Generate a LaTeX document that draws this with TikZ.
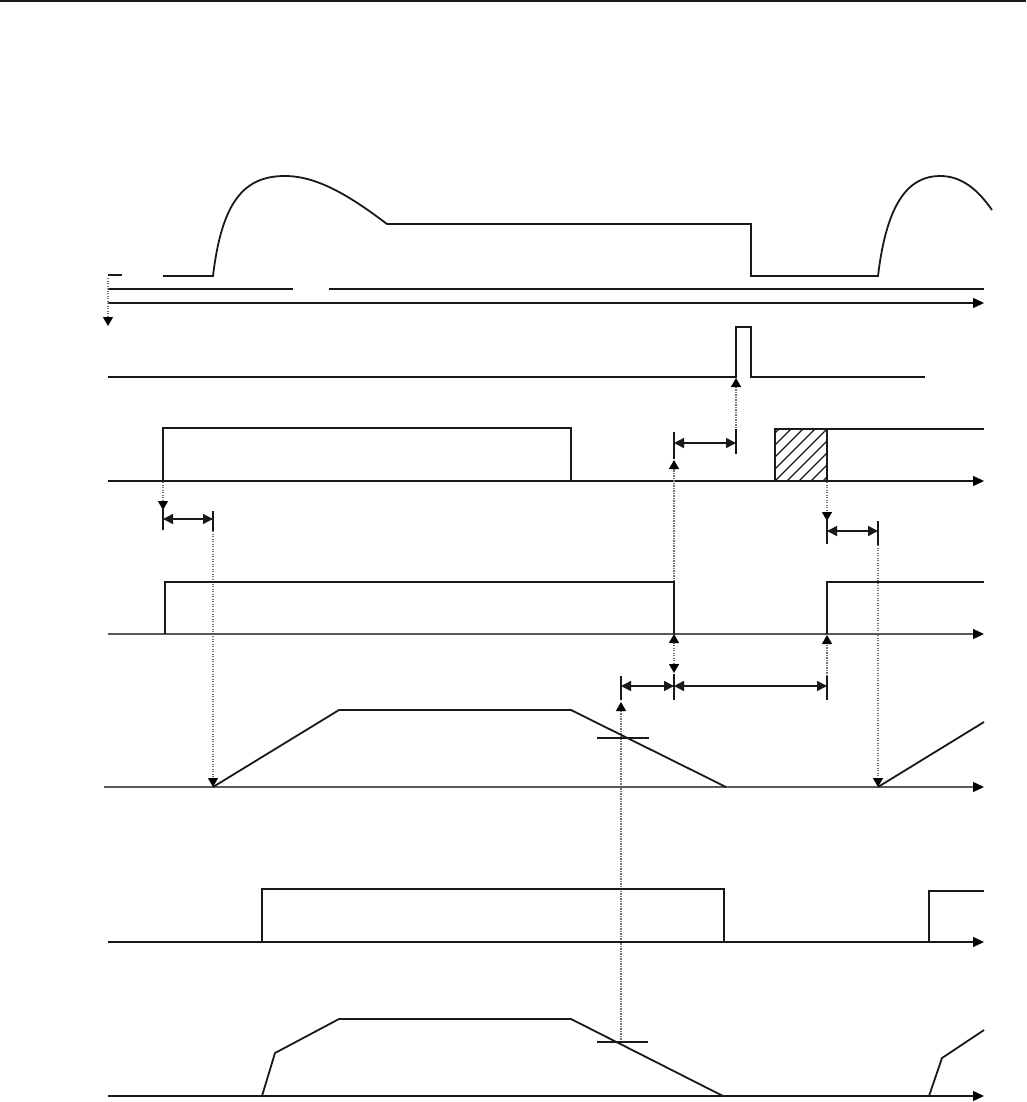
\documentclass[tikz,border=0pt]{standalone}
\usetikzlibrary{arrows.meta}
\begin{document}
\begin{tikzpicture}[x=1pt,y=-1pt,
  sig/.style={line width=1.8pt, line join=miter, color=black!90},
  axisline/.style={line width=1.3pt, color=black!90, -{Triangle[length=11pt,width=10pt,color=black]}},
  grayaxis/.style={axisline, color=black!65},
  thinline/.style={line width=1.2pt, color=black!90},
  tickmark/.style={line width=1.8pt, color=black!90},
  dimarrow/.style={line width=1.5pt, color=black!90, {Triangle[length=10pt,width=10pt]}-{Triangle[length=10pt,width=10pt]}},
  dotarrow/.style={line width=1.3pt, color=black!55, dash pattern=on 1.2pt off 1.3pt, -{Triangle[length=9pt,width=10pt,color=black]}},
  dotdouble/.style={line width=1.3pt, color=black!55, dash pattern=on 1.2pt off 1.3pt, {Triangle[length=9pt,width=10pt,color=black]}-{Triangle[length=9pt,width=10pt,color=black]}},
]
\useasboundingbox (0,0) rectangle (1026,1102);
% top rule
\draw[line width=2pt, black!90] (0,1) -- (1026,1);

% ---------- row 1 ----------
\draw[sig] (108,275) -- (122,275);
\draw[sig] (163,276) -- (213,276)
  .. controls (222,200) and (245,176) .. (285,176)
  .. controls (320,176) and (355,200) .. (387,224)
  -- (751,224) -- (751,276) -- (878,276)
  .. controls (887,200) and (910,176) .. (940,176)
  .. controls (962,176) and (978,190) .. (992,210);
\draw[thinline] (108,289) -- (293,289);
\draw[thinline] (329,289) -- (984,289);
\draw[axisline] (108,303) -- (984,303);
\draw[dotarrow] (108,278) -- (108,326);

% ---------- row 2 ----------
\draw[sig] (108,377) -- (736,377) -- (736,327) -- (751,327) -- (751,377) -- (925,377);
\draw[dotarrow] (736,453) -- (736,378);

% ---------- row 3 ----------
\draw[axisline] (108,481) -- (984,481);
\draw[sig] (163,481) -- (163,428) -- (571,428) -- (571,481);
\begin{scope}
  \clip (775,429) rectangle (827,481);
  \foreach \a in {715,727,...,835} \draw[line width=1.2pt, black!90] (\a,481) -- ({\a+52},429);
\end{scope}
\draw[sig] (775,481) -- (775,429) -- (984,429);
\draw[sig] (827,429) -- (827,481);

% dimension between rows 2/3
\draw[tickmark] (674,432) -- (674,459);
\draw[tickmark] (736,429) -- (736,454);
\draw[dimarrow] (674,443) -- (736,443);
\draw[dotarrow] (674,634) -- (674,460);

% right dimension below row 3
\draw[dotarrow] (827,482) -- (827,521);
\draw[tickmark] (827,517) -- (827,544);
\draw[tickmark] (878,521) -- (878,545);
\draw[dimarrow] (827,531) -- (878,531);
\draw[dotarrow] (878,545) -- (878,787);

% left dimension below row 3
\draw[dotarrow] (163,482) -- (163,510);
\draw[tickmark] (163,509) -- (163,530);
\draw[tickmark] (213,511) -- (213,531);
\draw[dimarrow] (163,519) -- (213,519);
\draw[dotarrow] (213,531) -- (213,787);

% ---------- row 4 ----------
\draw[grayaxis] (108,634) -- (984,634);
\draw[sig] (165,634) -- (165,582) -- (674,582) -- (674,634);
\draw[sig] (827,634) -- (827,582) -- (984,582);

% dimensions between rows 4/5
\draw[dotdouble] (674,634) -- (674,673);
\draw[tickmark] (674,674) -- (674,700);
\draw[dotarrow] (827,676) -- (827,635);
\draw[tickmark] (827,676) -- (827,700);
\draw[dimarrow] (674,686) -- (827,686);
\draw[tickmark] (621,676) -- (621,700);
\draw[dimarrow] (621,686) -- (674,686);
\draw[dotarrow] (621,1042) -- (621,702);

% ---------- row 5 ----------
\draw[grayaxis] (104,787) -- (984,787);
\draw[sig] (213,787) -- (339,710) -- (571,710) -- (726,787);
\draw[sig] (878,787) -- (984,722);
\draw[thinline] (597,738) -- (649,738);

% ---------- row 6 ----------
\draw[axisline] (108,942) -- (984,942);
\draw[sig] (262,942) -- (262,889) -- (724,889) -- (724,942);
\draw[sig] (929,942) -- (929,891) -- (984,891);

% ---------- row 7 ----------
\draw[axisline] (108,1096) -- (984,1096);
\draw[sig] (262,1096) -- (275,1053) -- (339,1019) -- (571,1019) -- (723,1096);
\draw[sig] (929,1096) -- (942,1058) -- (984,1030);
\draw[thinline] (597,1042) -- (648,1042);
\end{tikzpicture}
\end{document}
